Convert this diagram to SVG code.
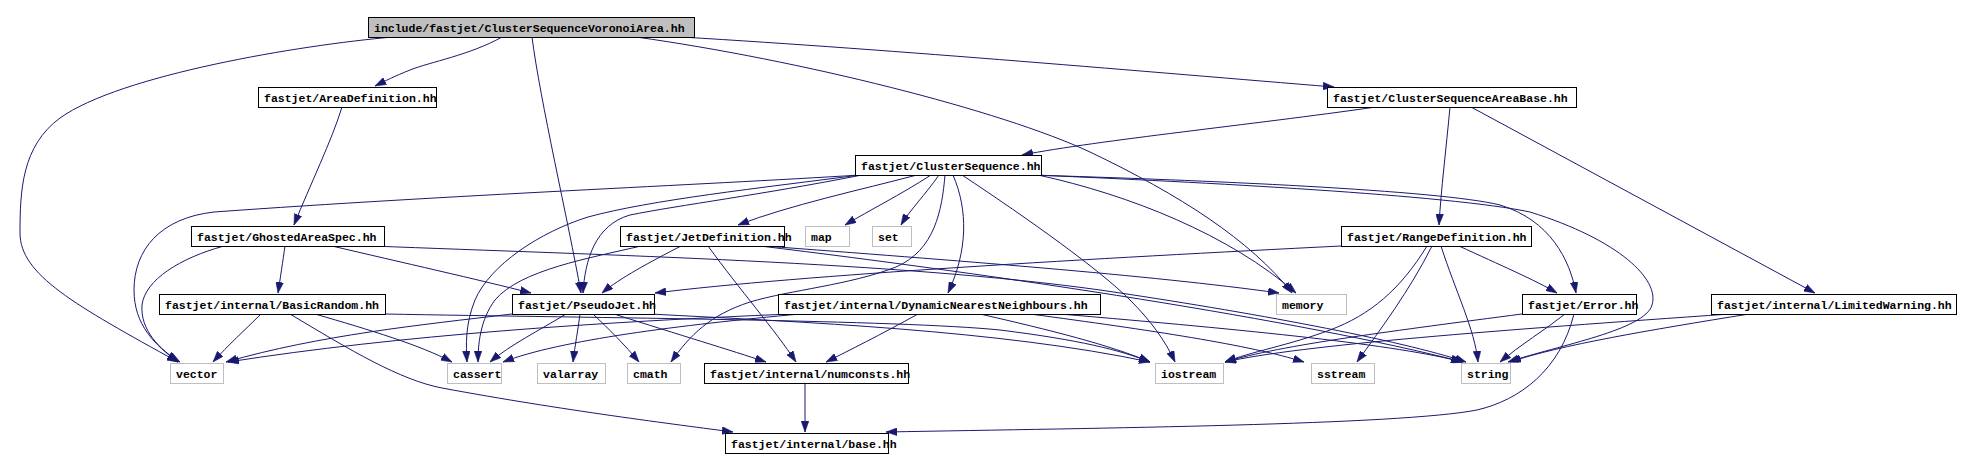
<svg xmlns="http://www.w3.org/2000/svg" width="1961" height="470" viewBox="0 0 1961 470">
<defs>
<marker id="ah" markerUnits="userSpaceOnUse" markerWidth="11" markerHeight="8" refX="10" refY="3.5" orient="auto" viewBox="0 0 10 7">
<path d="M0,0 L10,3.5 L0,7 z" fill="#191970" stroke="#191970" stroke-width="0.5"/>
</marker>
</defs>
<style>
.n rect{fill:#fff;stroke:#000;stroke-width:1}
.s rect{fill:#fff;stroke:#bfbfbf;stroke-width:1}
.r rect{fill:#bfbfbf;stroke:#000;stroke-width:1}
text{font-family:"Liberation Mono","DejaVu Sans Mono",monospace;font-size:11.5px;font-weight:bold;fill:#000}
#edges path{fill:none;stroke:#191970;stroke-width:1;marker-end:url(#ah)}
</style>
<rect width="1961" height="470" fill="#fff"/>
<g id="edges">
<path d="M393,37 C300,45 120,75 60,118 C22,146 20,190 20,233 C20,275 75,305 178,362"/>
<path d="M502,37 C470,55 430,62 410,70 C395,76 385,81 375,86"/>
<path d="M532,37 C540,100 568,220 581,293"/>
<path d="M636,37 C800,60 1000,110 1090,152 C1180,195 1250,240 1292,293"/>
<path d="M681,37 C900,50 1150,72 1334,87"/>
<path d="M342,107 C332,140 310,185 294,225"/>
<path d="M1376,107 C1250,125 1100,140 1022,155"/>
<path d="M1450,107 C1446,150 1441,190 1439,225"/>
<path d="M1471,107 L1815,293"/>
<path d="M860,175 C700,185 450,195 214,212 C160,218 134,250 134,290 C134,325 155,345 178,362"/>
<path d="M860,175 C760,188 650,200 588,217 C540,232 490,265 475,300 C465,325 466,345 467,362"/>
<path d="M862,175 C760,195 680,205 630,215 C595,225 585,260 583,293"/>
<path d="M917,175 C860,190 790,205 738,225"/>
<path d="M931,175 C900,195 870,210 845,225"/>
<path d="M939,175 C925,195 910,210 901,225"/>
<path d="M945,175 C942,210 935,250 896,267 C850,285 790,290 750,302 C710,315 690,335 671,362"/>
<path d="M953,175 C968,210 968,250 948,293"/>
<path d="M962,175 C1030,220 1100,270 1130,300 C1150,320 1165,340 1175,362"/>
<path d="M1038,175 C1130,195 1230,235 1296,293"/>
<path d="M1030,175 C1200,180 1440,190 1500,205 C1550,220 1570,260 1576,293"/>
<path d="M1034,175 C1200,182 1450,195 1530,212 C1620,240 1660,280 1652,305 C1645,330 1560,345 1508,362"/>
<path d="M224,246 C180,258 145,280 142,305 C140,330 160,350 180,362"/>
<path d="M285,246 C283,260 280,280 278,293"/>
<path d="M332,246 C400,262 480,280 531,293"/>
<path d="M372,246 C600,255 900,262 1100,290 C1250,312 1400,340 1466,362"/>
<path d="M261,314 C245,330 228,345 213,362"/>
<path d="M315,314 C370,330 420,345 452,362"/>
<path d="M290,314 C350,350 400,380 442,388 C560,410 680,425 733,432"/>
<path d="M384,314 C600,318 900,320 1000,330 C1080,340 1120,350 1150,362"/>
<path d="M512,314 C420,325 320,335 226,362"/>
<path d="M566,314 C540,330 510,345 490,362"/>
<path d="M580,314 C578,330 575,345 573,362"/>
<path d="M593,314 C610,330 625,345 639,362"/>
<path d="M614,314 C680,335 730,350 766,362"/>
<path d="M650,314 C800,322 1000,330 1150,362"/>
<path d="M681,246 C650,262 620,278 602,293"/>
<path d="M641,246 C590,258 520,270 495,300 C480,320 478,345 478,362"/>
<path d="M708,246 C740,290 775,330 796,362"/>
<path d="M764,246 C950,260 1150,275 1279,293"/>
<path d="M760,246 C1000,275 1300,320 1463,362"/>
<path d="M790,314 C600,322 400,335 228,362"/>
<path d="M800,314 C680,325 560,340 503,362"/>
<path d="M918,314 C880,335 850,350 826,362"/>
<path d="M980,314 C1050,330 1110,345 1150,362"/>
<path d="M1030,314 C1150,330 1250,345 1304,362"/>
<path d="M1060,314 C1250,330 1400,345 1462,362"/>
<path d="M1341,246 C1100,258 800,275 655,293"/>
<path d="M1459,246 C1500,265 1535,280 1557,293"/>
<path d="M1427,246 C1400,290 1370,315 1330,330 C1290,345 1250,352 1225,362"/>
<path d="M1432,246 C1410,290 1380,330 1357,362"/>
<path d="M1441,246 C1455,290 1475,330 1478,362"/>
<path d="M1522,314 C1400,330 1280,345 1225,362"/>
<path d="M1565,314 C1545,330 1520,345 1500,362"/>
<path d="M1574,314 C1560,370 1520,400 1477,410 C1400,425 1100,428 886,432"/>
<path d="M1730,314 C1500,330 1300,345 1225,362"/>
<path d="M1749,314 C1650,330 1560,345 1510,362"/>
<path d="M805,383 L805,432"/>
</g>
<g id="root" class="r"><rect x="368.5" y="17.5" width="326" height="20"/><text x="374" y="31.5">include/fastjet/ClusterSequenceVoronoiArea.hh</text></g>
<g id="areadef" class="n"><rect x="258.5" y="87.5" width="178" height="20"/><text x="264" y="101.5">fastjet/AreaDefinition.hh</text></g>
<g id="csab" class="n"><rect x="1327.5" y="87.5" width="249" height="20"/><text x="1333" y="101.5">fastjet/ClusterSequenceAreaBase.hh</text></g>
<g id="cs" class="n"><rect x="855.5" y="155.5" width="186" height="20"/><text x="861" y="169.5">fastjet/ClusterSequence.hh</text></g>
<g id="ghost" class="n"><rect x="191.5" y="226.5" width="193" height="20"/><text x="197" y="240.5">fastjet/GhostedAreaSpec.hh</text></g>
<g id="jetdef" class="n"><rect x="620.5" y="226.5" width="164" height="20"/><text x="626" y="240.5">fastjet/JetDefinition.hh</text></g>
<g id="map" class="s"><rect x="805.5" y="226.5" width="44" height="20"/><text x="811" y="240.5">map</text></g>
<g id="set" class="s"><rect x="872.5" y="226.5" width="39" height="20"/><text x="878" y="240.5">set</text></g>
<g id="rangedef" class="n"><rect x="1341.5" y="226.5" width="190" height="20"/><text x="1347" y="240.5">fastjet/RangeDefinition.hh</text></g>
<g id="basicrandom" class="n"><rect x="159.5" y="294.5" width="226" height="20"/><text x="165" y="308.5">fastjet/internal/BasicRandom.hh</text></g>
<g id="pseudojet" class="n"><rect x="512.5" y="294.5" width="142" height="20"/><text x="518" y="308.5">fastjet/PseudoJet.hh</text></g>
<g id="dnn" class="n"><rect x="778.5" y="294.5" width="322" height="20"/><text x="784" y="308.5">fastjet/internal/DynamicNearestNeighbours.hh</text></g>
<g id="memory" class="s"><rect x="1276.5" y="294.5" width="70" height="20"/><text x="1282" y="308.5">memory</text></g>
<g id="error" class="n"><rect x="1522.5" y="294.5" width="114" height="20"/><text x="1528" y="308.5">fastjet/Error.hh</text></g>
<g id="limitedwarning" class="n"><rect x="1711.5" y="294.5" width="245" height="20"/><text x="1717" y="308.5">fastjet/internal/LimitedWarning.hh</text></g>
<g id="vector" class="s"><rect x="170.5" y="363.5" width="53" height="20"/><text x="176" y="377.5">vector</text></g>
<g id="cassert" class="s"><rect x="447.5" y="363.5" width="54" height="20"/><text x="453" y="377.5">cassert</text></g>
<g id="valarray" class="s"><rect x="537.5" y="363.5" width="68" height="20"/><text x="543" y="377.5">valarray</text></g>
<g id="cmath" class="s"><rect x="627.5" y="363.5" width="53" height="20"/><text x="633" y="377.5">cmath</text></g>
<g id="numconsts" class="n"><rect x="704.5" y="363.5" width="204" height="20"/><text x="710" y="377.5">fastjet/internal/numconsts.hh</text></g>
<g id="iostream" class="s"><rect x="1155.5" y="363.5" width="68" height="20"/><text x="1161" y="377.5">iostream</text></g>
<g id="sstream" class="s"><rect x="1311.5" y="363.5" width="63" height="20"/><text x="1317" y="377.5">sstream</text></g>
<g id="string" class="s"><rect x="1461.5" y="363.5" width="49" height="20"/><text x="1467" y="377.5">string</text></g>
<g id="base" class="n"><rect x="725.5" y="433.5" width="163" height="20"/><text x="731" y="447.5">fastjet/internal/base.hh</text></g>
</svg>
